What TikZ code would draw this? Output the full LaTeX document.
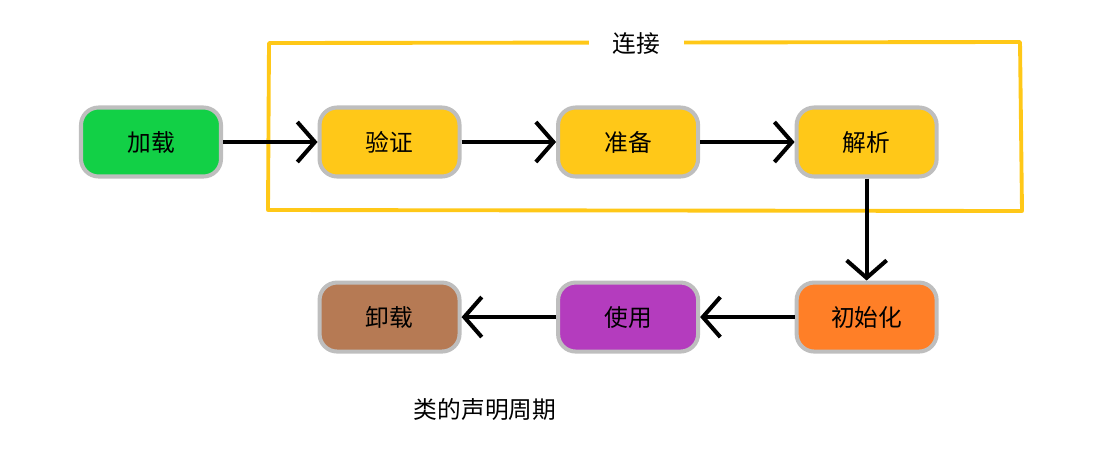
\documentclass[tikz,border=0pt]{standalone}
\usepackage{fontspec}
\setmainfont{Noto Sans CJK SC}
\usepackage{tikz}
\usetikzlibrary{arrows.meta, positioning, backgrounds}
\definecolor{loadgreen}{RGB}{18,208,70}
\definecolor{linkyellow}{RGB}{255,200,24}
\definecolor{initorange}{RGB}{255,127,39}
\definecolor{usepurple}{RGB}{180,60,190}
\definecolor{unloadbrown}{RGB}{182,122,84}
\definecolor{edgegray}{RGB}{190,190,190}
\tikzset{
    stageblock/.style={rectangle, draw=edgegray, fill=#1, rounded corners=10pt, minimum width=2.8cm, minimum height=1.38cm, align=center, font=\fontsize{13.5}{16}\selectfont, line width=2.3pt},
    stagearrow/.style={-{Straight Barb[length=3.5mm, width=8mm, line width=2.3pt]}, line width=2.3pt, black},
    linkframe/.style={draw=linkyellow, line width=2.2pt, line join=round},
    linktitle/.style={fill=white, minimum width=1.9cm, font=\fontsize{13.5}{16}\selectfont}
}

\begin{document}
\begin{tikzpicture}[node distance=2.0cm and 1.89cm]
\useasboundingbox (0,0) rectangle (22.06,-9.34);

\node[stageblock=loadgreen] (load) at (3.02,-2.84) {加载};
\node[stageblock=linkyellow, right=of load] (verify) {验证};
\node[stageblock=linkyellow, right=of verify] (prepare) {准备};
\node[stageblock=linkyellow, right=of prepare] (resolve) {解析};

\node[stageblock=initorange, below=2.04cm of resolve] (init) {初始化};
\node[stageblock=usepurple, left=of init] (use) {使用};
\node[stageblock=unloadbrown, left=of use] (unload) {卸载};

\draw[stagearrow] (load) -- (verify);
\draw[stagearrow] (verify) -- (prepare);
\draw[stagearrow] (prepare) -- (resolve);
\draw[stagearrow] (resolve) -- (init);
\draw[stagearrow] (init) -- (use);
\draw[stagearrow] (use) -- (unload);

\begin{scope}[on background layer]
    \draw[linkframe] (5.38,-0.86) -- (20.40,-0.84) -- (20.44,-4.22) -- (5.36,-4.20) -- cycle;
\end{scope}
\node[linktitle] (link) at (12.72,-0.88) {连接};

\node[font=\fontsize{13.5}{16}\selectfont] (cycle) at (9.7,-8.2) {类的声明周期};

\end{tikzpicture}
\end{document}
